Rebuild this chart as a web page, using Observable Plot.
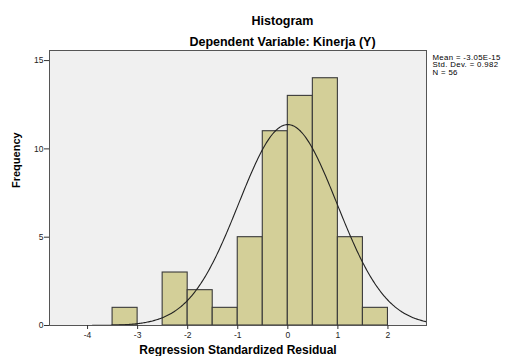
<!DOCTYPE html>
<html><head><meta charset="utf-8">
<script src="https://cdn.jsdelivr.net/npm/d3@7"></script>
<script src="https://cdn.jsdelivr.net/npm/@observablehq/plot@0.6"></script>
<style>body{margin:0;background:#fff;} svg{overflow:visible} .stats text{letter-spacing:0.35px}</style>
</head><body><div id="chart"></div>
<script>
// Histogram bins (lower edge, upper edge) and counts
const binStart = [-3.5, -2.5, -2.0, -1.5, -1.0, -0.5, 0.0, 0.5, 1.0, 1.5];
const binEnd   = [-3.0, -2.0, -1.5, -1.0, -0.5, 0.0, 0.5, 1.0, 1.5, 2.0];
const counts   = [1, 3, 2, 1, 5, 11, 13, 14, 5, 1];
const xTicks = [-4, -3, -2, -1, 0, 1, 2];
const yTicks = [0, 5, 10, 15];
// Summary statistics as printed on the chart
const statLabels = ["Mean = -3.05E-15", "Std. Dev. = 0.982", "N = 56"];
const meanVal = [-3.05e-15];
const sdVal = [0.982];
const nVal = [56];
const binWidth = [0.5];
const xDomain = [-4.76, 2.77];
const yDomain = [0, 15.57];

const bars = binStart.map((s, i) => ({x1: s, x2: binEnd[i], y: counts[i]}));
// Normal curve implied by the printed mean / sd / N
const curve = d3.range(xDomain[0], xDomain[1] + 0.001, 0.02).map(x => ({
  x, y: nVal[0] * binWidth[0] * Math.exp(-0.5 * ((x - meanVal[0]) / sdVal[0]) ** 2) / (sdVal[0] * Math.sqrt(2 * Math.PI))
}));

const font = "Liberation Sans, Arial, sans-serif";
const fmt = d => String(d);
const chart = Plot.plot({
  width: 511, height: 356,
  marginLeft: 49, marginRight: 85, marginTop: 50, marginBottom: 31,
  style: {fontFamily: font, background: "#fff", overflow: "visible"},
  x: {domain: xDomain, ticks: xTicks},
  y: {domain: yDomain, ticks: yTicks},
  marks: [
    Plot.frame({fill: "#f0f0f0", stroke: null}),
    Plot.rectY(bars, {x1: "x1", x2: "x2", y: "y", fill: "#d3cf98", stroke: "#3a3a3a", strokeWidth: 1.1, inset: 0}),
    Plot.line(curve, {x: "x", y: "y", stroke: "#222", strokeWidth: 1.1, clip: true}),
    Plot.frame({stroke: "#555", strokeWidth: 1}),
    Plot.axisX(xTicks, {tickSize: 4, tickPadding: 2, fontSize: 8.5, label: null, color: "#222", stroke: "#333", tickFormat: fmt}),
    Plot.axisY(yTicks, {tickSize: 5, tickPadding: 1, fontSize: 8.5, label: null, color: "#222", stroke: "#333", tickFormat: fmt}),
    Plot.text(["Histogram"], {frameAnchor: "top", lineAnchor: "middle", dx: 44.5, dy: -30, fontSize: 12.5, fontWeight: "bold", fill: "#000"}),
    Plot.text(["Dependent Variable: Kinerja (Y)"], {frameAnchor: "top", lineAnchor: "middle", dx: 44.5, dy: -9, fontSize: 12.5, fontWeight: "bold", fill: "#000"}),
    Plot.text(["Regression Standardized Residual"], {frameAnchor: "bottom", lineAnchor: "middle", dy: 24.5, fontSize: 12, fontWeight: "bold", fill: "#000"}),
    Plot.text(["Frequency"], {frameAnchor: "left", lineAnchor: "middle", dx: -33, rotate: -90, fontSize: 11, fontWeight: "bold", fill: "#000"}),
    Plot.text([statLabels.join("\n")], {frameAnchor: "top-right", dx: 6, dy: 3.5, textAnchor: "start", lineAnchor: "top", fontSize: 7.8, lineHeight: 1.0, fill: "#000", className: "stats"})
  ]
});
document.getElementById("chart").appendChild(chart);
</script></body></html>
